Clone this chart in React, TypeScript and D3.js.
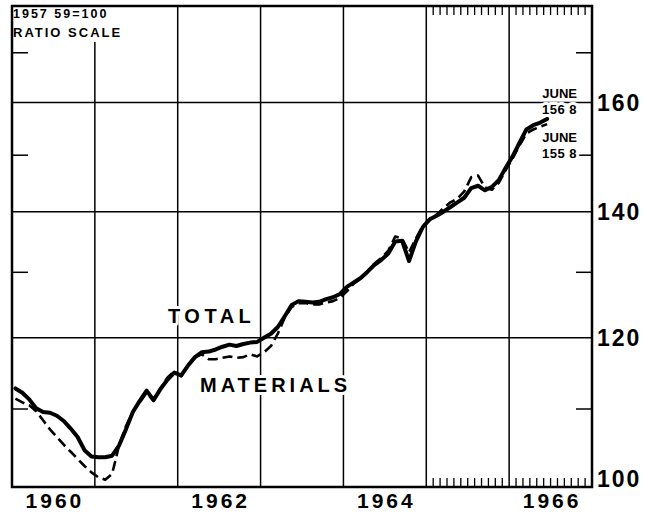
import React from 'react';
import * as d3 from 'd3';

// monthly index, 1957-59=100, Jan 1960 .. Jun 1966
const startYear = 1960;
const totalIndex = [
  112.8, 112.2, 111.3, 110.1, 109.6, 109.5, 109.1, 108.4, 107.4, 106.3, 104.6, 103.8,
  103.7, 103.7, 103.9, 105.2, 107.3, 109.6, 111.1, 112.5, 111.2, 112.7, 114.0, 115.0,
  114.6, 116.0, 117.2, 117.9, 118.0, 118.3, 118.7, 119.0, 118.8, 119.1, 119.3, 119.4,
  120.0, 120.6, 121.6, 123.2, 124.9, 125.5, 125.4, 125.3, 125.4, 125.8, 126.1, 126.6,
  127.7, 128.4, 129.1, 130.1, 131.2, 132.0, 133.0, 135.0, 135.1, 131.8, 135.0, 137.4,
  138.7, 139.3, 140.0, 140.8, 141.6, 142.4, 144.1, 144.5, 143.7, 144.3, 145.5, 147.7,
  149.8, 152.3, 154.8, 155.6, 156.1, 156.8,
];
const materialsIndex = [
  111.4, 110.9, 110.5, 109.7, 108.5, 107.3, 106.3, 105.3, 104.4, 103.5, 102.6, 101.8,
  101.2, 100.9, 101.6, 105.2, 107.7, 109.6, 110.9, 112.2, 111.1, 112.8, 114.3, 115.2,
  114.5, 116.0, 117.2, 117.6, 116.9, 116.9, 117.1, 117.3, 117.1, 117.2, 117.6, 117.3,
  117.9, 118.8, 120.6, 123.0, 124.6, 125.2, 125.2, 125.0, 125.0, 125.3, 125.5, 126.0,
  127.0, 128.2, 129.0, 130.2, 131.4, 132.3, 133.5, 135.8, 135.5, 133.2, 135.5, 137.6,
  138.6, 139.5, 140.6, 141.6, 142.2, 143.5, 146.0, 146.3, 144.2, 143.8, 145.0, 147.3,
  149.4, 151.8, 154.0, 154.8, 155.3, 155.8,
];

const yearLabels = [1960, 1962, 1964, 1966];
const yearLines = [1961, 1962, 1963, 1964, 1965, 1966];
const majorTicks = [100, 120, 140, 160];
const minorTicks = [110, 130, 150, 170];
const monthTickYears = [1965, 1966];

const W = 645;
const H = 515;
const L = 12, R = 592, T = 6, B = 487;

const font = "'Liberation Sans', Arial, sans-serif";

export default function App() {
  const x = d3.scaleLinear().domain([1960, 1967]).range([L, R]);
  const y = d3.scaleLog().domain([100, 180]).range([B, T]);

  const when = (i: number) => startYear + (i + 0.5) / 12;
  const line = d3.line<number>()
    .x((_, i) => x(when(i)))
    .y(d => y(d));

  const months: number[] = [];
  monthTickYears.forEach(yr => {
    for (let m = 1; m < 12; m++) months.push(yr + m / 12);
  });

  const halo = { paintOrder: 'stroke', stroke: '#fff', strokeWidth: 6, strokeLinejoin: 'round' } as any;

  return (
    <svg width={W} height={H} style={{ position: 'absolute', left: 0, top: 0, background: '#fff' }}>
      {/* horizontal grid */}
      {majorTicks.slice(1).map(v => (
        <line key={v} x1={L} x2={R} y1={y(v)} y2={y(v)} stroke="#000" strokeWidth={1.5} />
      ))}
      {/* vertical grid at year boundaries */}
      {yearLines.map(yr => (
        <line key={yr} x1={x(yr)} x2={x(yr)} y1={yr === 1961 ? 42 : T} y2={B} stroke="#000" strokeWidth={1.5} />
      ))}
      {/* minor ticks on both sides */}
      {minorTicks.map(v => (
        <g key={v}>
          <line x1={L} x2={L + 16} y1={y(v)} y2={y(v)} stroke="#000" strokeWidth={1.5} />
          <line x1={R - 16} x2={R} y1={y(v)} y2={y(v)} stroke="#000" strokeWidth={1.5} />
        </g>
      ))}
      {/* monthly ticks, 1965-66 */}
      {months.map(t => (
        <g key={t}>
          <line x1={x(t)} x2={x(t)} y1={T} y2={T + 9} stroke="#000" strokeWidth={1.3} />
          <line x1={x(t)} x2={x(t)} y1={B - 9} y2={B} stroke="#000" strokeWidth={1.3} />
        </g>
      ))}

      <path d={line(materialsIndex) || ''} fill="none" stroke="#000" strokeWidth={2.6}
        strokeDasharray="10 5" strokeLinejoin="round" />
      <path d={line(totalIndex) || ''} fill="none" stroke="#000" strokeWidth={4}
        strokeLinejoin="round" strokeLinecap="round" />

      {/* frame */}
      <rect x={L} y={T} width={R - L} height={B - T} fill="none" stroke="#000" strokeWidth={2.5} />

      {/* right axis labels */}
      {majorTicks.map(v => (
        <text key={v} x={597} y={v === 100 ? B : y(v) + 8.5} fontFamily={font} fontWeight="bold"
          fontSize={23} letterSpacing={2} fill="#000">{v}</text>
      ))}
      {/* year labels */}
      {yearLabels.map(yr => (
        <text key={yr} x={x(yr + 0.5) + 1.5} y={508} textAnchor="middle" fontFamily={font}
          fontWeight="bold" fontSize={21} letterSpacing={3} fill="#000">{yr}</text>
      ))}

      <text x={13} y={18} fontFamily={font} fontWeight="bold" fontSize={12.5} letterSpacing={2} fill="#000">1957 59=100</text>
      <text x={13} y={37} fontFamily={font} fontWeight="bold" fontSize={13} letterSpacing={2} fill="#000">RATIO SCALE</text>

      <text x={168} y={323} fontFamily={font} fontWeight="bold" fontSize={20} letterSpacing={4.5} fill="#000" style={halo}>TOTAL</text>
      <text x={200} y={392} fontFamily={font} fontWeight="bold" fontSize={20} letterSpacing={4} fill="#000" style={halo}>MATERIALS</text>

      <g fontFamily={font} fontWeight="bold" fontSize={13} fill="#000" textAnchor="end">
        <text x={577} y={98} style={halo}>JUNE</text>
        <text x={577} y={114} letterSpacing={0.5} style={halo}>156 8</text>
        <text x={577} y={142} style={halo}>JUNE</text>
        <text x={577} y={158} letterSpacing={0.5} style={halo}>155 8</text>
      </g>
    </svg>
  );
}
